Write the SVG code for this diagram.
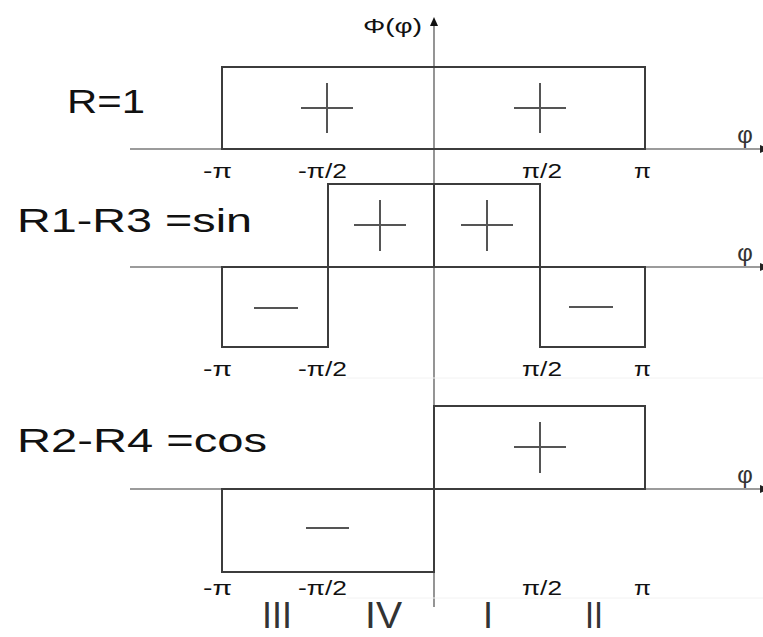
<svg xmlns="http://www.w3.org/2000/svg" width="763" height="637" viewBox="0 0 763 637">
<defs>
<style>
.axis{stroke:#7a7a7a;stroke-width:1.6;fill:none}
.box{stroke:#3c3c3c;stroke-width:2;fill:none}
.sign{stroke:#555;stroke-width:2;fill:none}
.big{font-family:"Liberation Sans",Arial,sans-serif;font-size:34px;fill:#111}
.tick{font-family:"Liberation Sans",Arial,sans-serif;font-size:21px;fill:#111}
.phi{font-family:"Liberation Sans",Arial,sans-serif;font-size:24px;fill:#333;text-anchor:middle}
.rom{font-family:"Liberation Sans",Arial,sans-serif;font-size:36px;fill:#333}
</style>
</defs>
<rect width="763" height="637" fill="#fff"/>
<g id="connectors">
<line class="axis" x1="434" y1="24" x2="434" y2="607"/>
<polygon points="434,17 430,26 438,26" fill="#111"/>
<line class="axis" x1="130" y1="149" x2="762" y2="149"/>
<polygon points="760,145 769,149 760,153" fill="#222"/>
<line class="axis" x1="130" y1="267" x2="762" y2="267"/>
<polygon points="760,263 769,267 760,271" fill="#222"/>
<line class="axis" x1="130" y1="489" x2="762" y2="489"/>
<polygon points="760,485 769,489 760,493" fill="#222"/>
<line x1="347" y1="378" x2="763" y2="378" stroke="#f2f2f2" stroke-width="1"/>
<line x1="347" y1="598" x2="763" y2="598" stroke="#f2f2f2" stroke-width="1"/>
</g>
<g id="yaxis-label"><text class="tick" x="363" y="33" textLength="59" lengthAdjust="spacingAndGlyphs">Φ(φ)</text></g>
<g id="chart1">
<text class="big" x="67" y="113" textLength="78" lengthAdjust="spacingAndGlyphs">R=1</text>
<rect class="box" x="222" y="67" width="423" height="82"/>
<path class="sign" d="M301 108H353M327 83V133"/>
<path class="sign" d="M514 108H566M540 83V133"/>
<text class="phi" x="745" y="143">φ</text>
<text class="tick" x="203" y="178" textLength="29" lengthAdjust="spacingAndGlyphs">-π</text>
<text class="tick" x="298" y="178" textLength="49" lengthAdjust="spacingAndGlyphs">-π/2</text>
<text class="tick" x="522" y="178" textLength="40" lengthAdjust="spacingAndGlyphs">π/2</text>
<text class="tick" x="634" y="178" textLength="17" lengthAdjust="spacingAndGlyphs">π</text>
</g>
<g id="chart2">
<text class="big" x="17" y="232" textLength="235" lengthAdjust="spacingAndGlyphs">R1-R3 =sin</text>
<rect class="box" x="328" y="184" width="106" height="83"/>
<rect class="box" x="434" y="184" width="106" height="83"/>
<rect class="box" x="222" y="267" width="106" height="80"/>
<rect class="box" x="540" y="267" width="105" height="80"/>
<path class="sign" d="M354 225H406M380 200V251"/>
<path class="sign" d="M461 225H513M487 200V251"/>
<path class="sign" d="M254 308H298"/>
<path class="sign" d="M569 307H613"/>
<text class="phi" x="745" y="261">φ</text>
<text class="tick" x="203" y="376" textLength="29" lengthAdjust="spacingAndGlyphs">-π</text>
<text class="tick" x="298" y="376" textLength="49" lengthAdjust="spacingAndGlyphs">-π/2</text>
<text class="tick" x="522" y="376" textLength="40" lengthAdjust="spacingAndGlyphs">π/2</text>
<text class="tick" x="634" y="376" textLength="17" lengthAdjust="spacingAndGlyphs">π</text>
</g>
<g id="chart3">
<text class="big" x="17" y="452" textLength="250" lengthAdjust="spacingAndGlyphs">R2-R4 =cos</text>
<rect class="box" x="434" y="406" width="211" height="83"/>
<rect class="box" x="222" y="489" width="212" height="83"/>
<path class="sign" d="M514 447H566M540 422V473"/>
<path class="sign" d="M306 528H349"/>
<text class="phi" x="745" y="483">φ</text>
<text class="tick" x="203" y="595" textLength="29" lengthAdjust="spacingAndGlyphs">-π</text>
<text class="tick" x="298" y="595" textLength="49" lengthAdjust="spacingAndGlyphs">-π/2</text>
<text class="tick" x="522" y="595" textLength="40" lengthAdjust="spacingAndGlyphs">π/2</text>
<text class="tick" x="634" y="595" textLength="17" lengthAdjust="spacingAndGlyphs">π</text>
</g>
<g id="quadrants">
<text class="rom" x="262" y="628" textLength="30" lengthAdjust="spacingAndGlyphs">III</text>
<text class="rom" x="365" y="628" textLength="37" lengthAdjust="spacingAndGlyphs">IV</text>
<text class="rom" x="483" y="628">I</text>
<text class="rom" x="585" y="628" textLength="18" lengthAdjust="spacingAndGlyphs">II</text>
</g>
</svg>
